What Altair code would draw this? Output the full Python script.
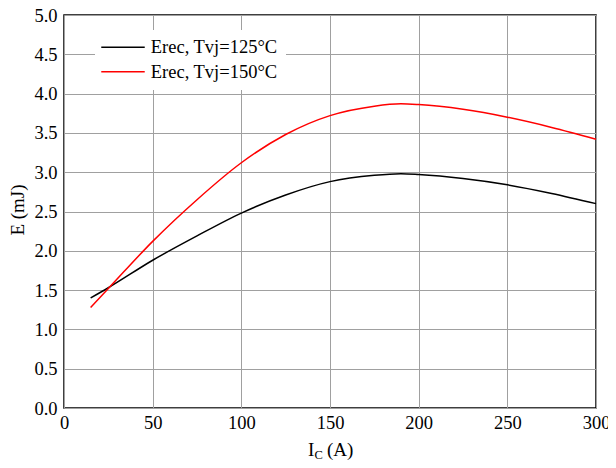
import altair as alt
import pandas as pd

ic = [15, 25, 50, 75, 100, 125, 150, 175, 190, 200, 225, 250, 275, 300]
e_125 = [1.40, 1.53, 1.88, 2.19, 2.48, 2.71, 2.88, 2.96, 2.98, 2.97, 2.92, 2.84, 2.73, 2.60]
e_150 = [1.28, 1.52, 2.12, 2.65, 3.12, 3.48, 3.72, 3.84, 3.87, 3.86, 3.80, 3.70, 3.57, 3.42]
series = ["Erec, Tvj=125°C", "Erec, Tvj=150°C"]
colors = ["#000000", "#ff0000"]

rows = []
for x, a, b in zip(ic, e_125, e_150):
    rows.append({"Ic": x, "E": a, "s": series[0]})
    rows.append({"Ic": x, "E": b, "s": series[1]})
df = pd.DataFrame(rows)

FONT = "Liberation Serif"
FS = 18.5

lines = alt.Chart(df).mark_line(strokeWidth=1.5, interpolate="monotone").encode(
    x=alt.X("Ic:Q", scale=alt.Scale(domain=[0, 300], nice=False),
            axis=alt.Axis(values=list(range(0, 301, 50)), title=None, format="d",
                          labelFlush=False, labelFont=FONT, labelFontSize=FS,
                          labelColor="black", labelPadding=5)),
    y=alt.Y("E:Q", scale=alt.Scale(domain=[0, 5], nice=False),
            axis=alt.Axis(values=[i * 0.5 for i in range(11)], format=".1f", title=None,
                          labelFont=FONT, labelFontSize=FS, labelColor="black",
                          labelPadding=7)),
    color=alt.Color("s:N", scale=alt.Scale(domain=series, range=colors),
                    legend=alt.Legend(title=None, orient="none", legendX=31, legendY=15,
                                      fillColor="white", padding=8,
                                      symbolType="M-3,0H3", symbolSize=210,
                                      symbolOffset=10.75,
                                      symbolStrokeWidth=1.5, labelFont=FONT,
                                      labelFontSize=FS, labelColor="black",
                                      rowPadding=5.5, labelOffset=18.5)),
)

xt1 = alt.Chart(pd.DataFrame({"t": ["I"]})).mark_text(font=FONT, fontSize=19, align="left", baseline="alphabetic", color="black").encode(
    text="t:N", x=alt.value(244), y=alt.value(441))
xt2 = alt.Chart(pd.DataFrame({"t": ["C"]})).mark_text(font=FONT, fontSize=12.5, align="left", baseline="alphabetic", color="black").encode(
    text="t:N", x=alt.value(250.5), y=alt.value(444))
xt3 = alt.Chart(pd.DataFrame({"t": ["(A)"]})).mark_text(font=FONT, fontSize=19, align="left", baseline="alphabetic", color="black").encode(
    text="t:N", x=alt.value(263), y=alt.value(441))
yt = alt.Chart(pd.DataFrame({"t": ["E (mJ)"]})).mark_text(font=FONT, fontSize=19, align="center", baseline="middle", angle=270, color="black").encode(
    text="t:N", x=alt.value(-46), y=alt.value(195))

chart = alt.layer(lines, xt1, xt2, xt3, yt).properties(
    width=532, height=393,
    autosize=alt.AutoSizeParams(type="none"),
    padding={"left": 56, "top": 7, "right": 12, "bottom": 52},
).configure_view(stroke="black", strokeWidth=1.5).configure_axis(
    grid=True, gridColor="#a0a0a0", gridWidth=1, ticks=False, domain=False,
    labelFont=FONT, labelFontSize=FS, labelColor="black",
)

chart.save("out.html", embed_options={"renderer": "svg", "actions": False})
